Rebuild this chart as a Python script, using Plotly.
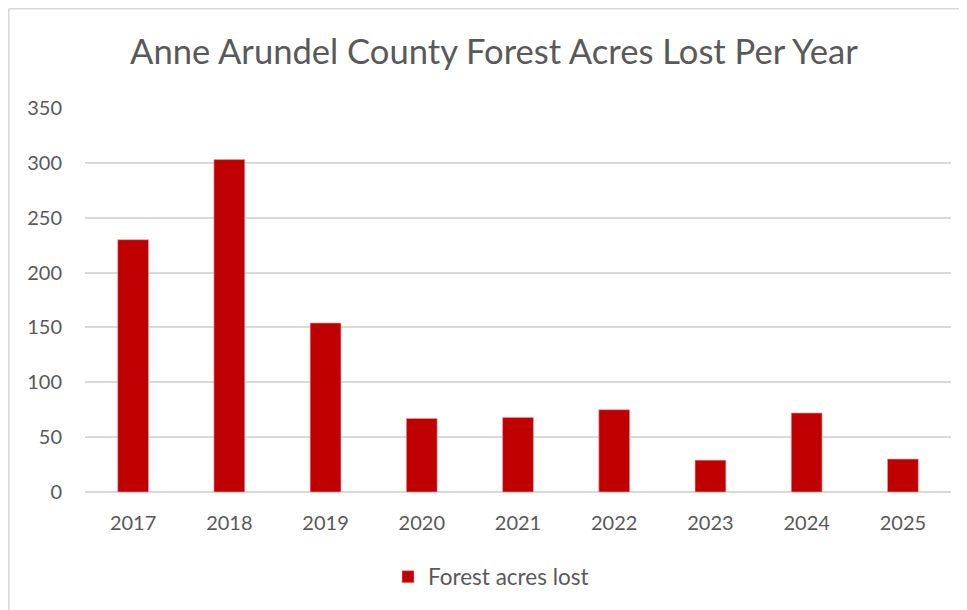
import plotly.graph_objects as go

years = ["2017", "2018", "2019", "2020", "2021", "2022", "2023", "2024", "2025"]
acres_lost = [230, 303, 154, 67, 68, 75, 29, 72, 30]
y_ticks = [0, 50, 100, 150, 200, 250, 300, 350]

# page places the figure at (8, 8); the figure's top-left edge is the chart border
W, H = 959, 602
L, R, T, B = 77, 16, 100, 118
pw, ph = W - L - R, H - T - B

fig = go.Figure()
fig.add_trace(go.Bar(
    x=years, y=acres_lost, name="Forest acres lost",
    marker=dict(color="#c00000", line=dict(color="#e8a0a0", width=0.6)),
    showlegend=True,
))

fnt = "Lato, 'Open Sans', sans-serif"
fig.update_layout(
    width=W, height=H,
    margin=dict(l=L, r=R, t=T, b=B),
    paper_bgcolor="white", plot_bgcolor="white",
    bargap=0.68,
    font=dict(family=fnt, color="#595959", size=20),
    title=dict(text="Anne Arundel County Forest Acres Lost Per Year",
               x=(494 - 8) / W, xanchor="center", y=1 - 44 / H, yanchor="middle",
               font=dict(size=34.6, color="#595959", family=fnt)),
    xaxis=dict(showgrid=False, showline=False, ticks="", zeroline=False,
               tickfont=dict(size=20, color="#595959"), ticklabelstandoff=17),
    yaxis=dict(range=[0, 350], tickvals=y_ticks, showgrid=True,
               gridcolor="#d9d9d9", gridwidth=1.6, zeroline=True,
               zerolinecolor="#d9d9d9", zerolinewidth=1.6, showline=False,
               ticks="", tickfont=dict(size=20, color="#595959"),
               ticklabelstandoff=22),
    legend=dict(orientation="h", x=(388 - 8 - L) / pw, xanchor="left",
                y=-(569 - (H - B)) / ph, yanchor="middle",
                font=dict(size=22.5, color="#595959"), itemwidth=30),
)

# chart-area border (top and left edges visible)
x_left = -(L - 0.8) / pw
y_top = (H - B - 0.8) / ph
fig.add_shape(type="line", xref="paper", yref="paper", x0=x_left, x1=(W - L) / pw + 0.05,
              y0=y_top, y1=y_top, line=dict(color="#d9d9d9", width=1.6))
fig.add_shape(type="line", xref="paper", yref="paper", x0=x_left, x1=x_left,
              y0=y_top, y1=-(B + 5) / ph, line=dict(color="#d9d9d9", width=1.6))

fig.write_html("out.html")
